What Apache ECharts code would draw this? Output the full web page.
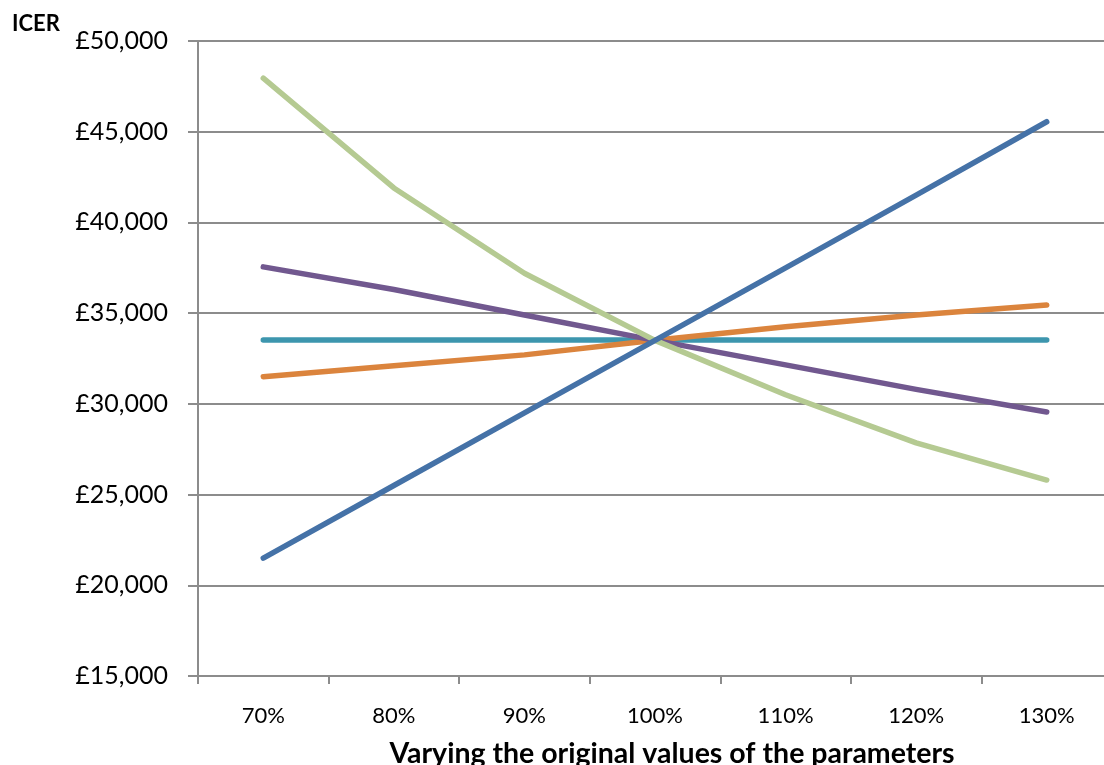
<!DOCTYPE html>
<html><head><meta charset="utf-8">
<script src="https://cdn.jsdelivr.net/npm/echarts@6/dist/echarts.min.js"></script>
<style>html,body{margin:0;padding:0;background:#fff}#c{width:1104px;height:765px}</style>
</head><body><div id="c"></div>
<script>
const categories = ['70%','80%','90%','100%','110%','120%','130%'];
const seriesBlue = [21500, 25500, 29500, 33500, 37500, 41500, 45550];
const seriesTeal = [33520, 33520, 33520, 33520, 33520, 33520, 33520];
const seriesOrange = [31500, 32100, 32700, 33500, 34250, 34900, 35450];
const seriesPurple = [37550, 36300, 34900, 33500, 32150, 30800, 29550];
const seriesGreen = [47950, 41900, 37200, 33500, 30500, 27850, 25800];
const yTicks = {min: 15000, max: 50000, interval: 5000};

const font = 'Lato, "Open Sans", sans-serif';
function mk(data, color, z) {
  return {type:'line', data, symbol:'none', z, lineStyle:{color, width:5.5, cap:'round', join:'round'}, itemStyle:{color}, animation:false};
}
const chart = echarts.init(document.getElementById('c'));
chart.setOption({
  animation:false,
  title:{text:'ICER', left:12, top:13, padding:0, textStyle:{fontFamily:font, fontSize:22, fontWeight:'bold', color:'#000'}},
  grid:{left:198, top:41, bottom:89, width:914, outerBoundsMode:'none', containLabel:false},
  xAxis:{type:'category', data:categories, boundaryGap:true,
    name:'Varying the original values of the parameters', nameLocation:'middle', nameGap:63,
    nameTextStyle:{fontFamily:font, fontSize:28.5, fontWeight:'bold', color:'#000', padding:[0,0,0,34]},
    axisLine:{lineStyle:{color:'#8c8c8c', width:2}},
    axisTick:{show:true, alignWithLabel:false, length:8, lineStyle:{color:'#8c8c8c', width:2}},
    axisLabel:{fontFamily:font, fontSize:22, color:'#000', margin:29}
  },
  yAxis:{type:'value', min:yTicks.min, max:yTicks.max, interval:yTicks.interval,
    axisLine:{show:true, lineStyle:{color:'#8c8c8c', width:2}},
    axisTick:{show:true, length:10, lineStyle:{color:'#8c8c8c', width:2}},
    splitLine:{lineStyle:{color:'#8c8c8c', width:2}},
    axisLabel:{fontFamily:font, fontSize:25, color:'#000', margin:30,
      formatter: v => '£' + v.toLocaleString('en-GB')}
  },
  series:[
    mk(seriesTeal,'#3D96AE',2),
    mk(seriesOrange,'#DB843D',3),
    mk(seriesPurple,'#71588F',4),
    mk(seriesGreen,'#B5CA92',5),
    mk(seriesBlue,'#4572A7',6)
  ]
});
</script></body></html>
